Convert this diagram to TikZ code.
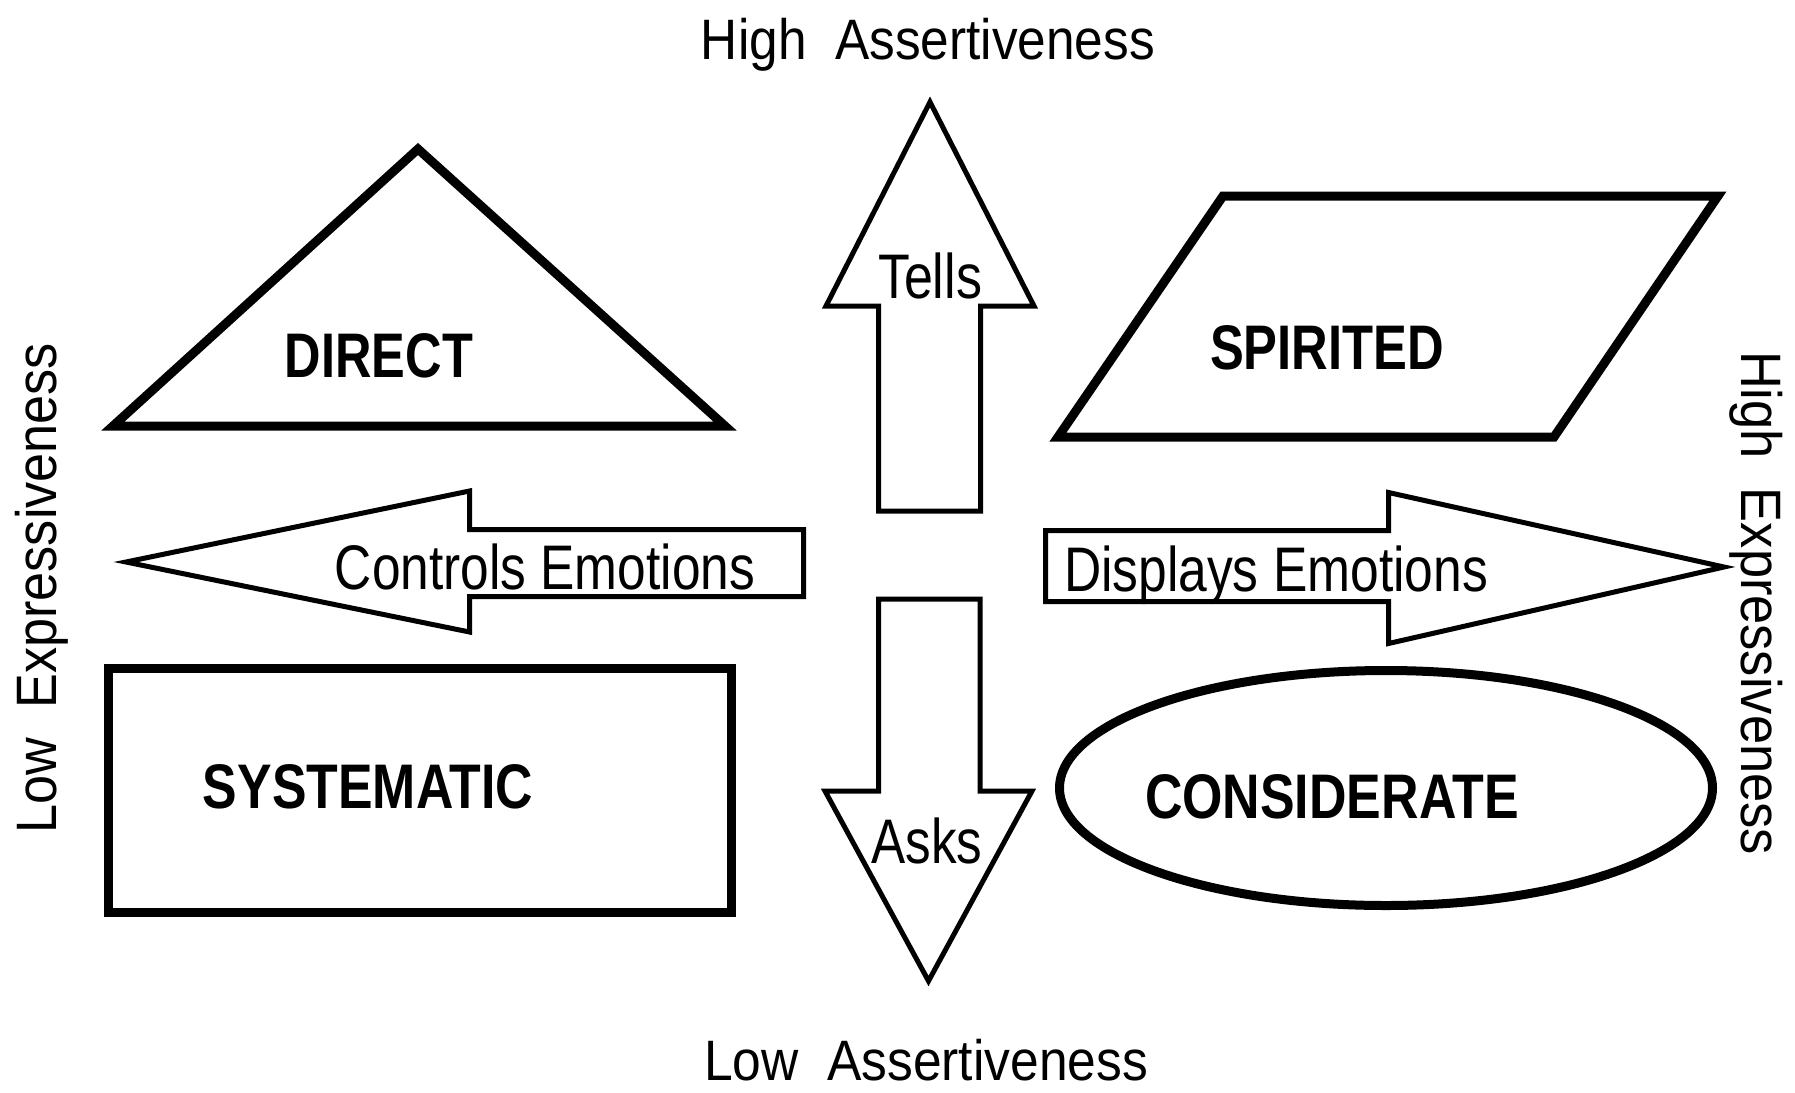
\documentclass[tikz,border=0pt]{standalone}
\usepackage{fontspec}
\setmainfont{Liberation Sans}
\usepackage{graphicx}
\newcommand{\fitw}[2]{\resizebox{#1}{\height}{#2}}
\begin{document}
\begin{tikzpicture}[x=0.5pt,y=-0.5pt,
  shapeline/.style={draw=black,line width=4.5pt,line join=miter,miter limit=12},
  arrline/.style={draw=black,line width=2.5pt,line join=miter,miter limit=12},
  typelab/.style={inner sep=0pt,anchor=base,font=\fontsize{31.5}{36}\selectfont\bfseries},
  arrlab/.style={inner sep=0pt,anchor=base,font=\fontsize{31.5}{36}\selectfont},
  axislab/.style={inner sep=0pt,anchor=base,font=\fontsize{28.5}{33}\selectfont}]
\useasboundingbox (0,0) rectangle (1795,1093);
% quadrant shapes
\draw[shapeline] (113,426) -- (418,149) -- (725,426) -- cycle;
\draw[shapeline] (1223,196) -- (1718,196) -- (1554,437) -- (1058,437) -- cycle;
\draw[shapeline] (108,668) rectangle (731,912);
\draw[line width=4.5pt] (1386,788) ellipse [x radius=326.5, y radius=117.5];
% block arrows
\draw[arrline] (878.5,511) -- (878.5,306) -- (826,306) -- (930,102) -- (1034,306) -- (980.5,306) -- (980.5,511) -- cycle;
\draw[arrline] (878.5,599) -- (878.5,791) -- (825,791) -- (928.5,981) -- (1032,791) -- (980,791) -- (980,599) -- cycle;
\draw[arrline] (803.5,529.5) -- (469.5,529.5) -- (469.5,491) -- (126,562) -- (469.5,632) -- (469.5,596.5) -- (803.5,596.5) -- cycle;
\draw[arrline] (1045.5,530.5) -- (1388.5,530.5) -- (1388.5,492.5) -- (1724,567) -- (1388.5,643.5) -- (1388.5,601.5) -- (1045.5,601.5) -- cycle;
% labels
\node[typelab] (direct) at (379,377) {\fitw{94pt}{DIRECT}};
\node[typelab] (spirited) at (1327,369) {\fitw{117pt}{SPIRITED}};
\node[typelab] (systematic) at (368,808) {\fitw{165pt}{SYSTEMATIC}};
\node[typelab] (considerate) at (1332,818) {\fitw{187pt}{CONSIDERATE}};
\node[arrlab] (tells) at (930,298) {\fitw{52pt}{Tells}};
\node[arrlab] (asks) at (927,863) {\fitw{55.5pt}{Asks}};
\node[arrlab] (controls) at (545,589) {\fitw{210pt}{Controls Emotions}};
\node[arrlab] (displays) at (1276,591) {\fitw{212pt}{Displays Emotions}};
\node[axislab] (highA) at (928,59) {\fitw{227pt}{High~~Assertiveness}};
\node[axislab] (lowA) at (926,1080) {\fitw{222pt}{Low~~Assertiveness}};
\node[axislab,rotate=90] (lowE) at (56,588) {\fitw{245pt}{Low~~Expressiveness}};
\node[axislab,rotate=-90] (highE) at (1741,603) {\fitw{252pt}{High~~Expressiveness}};
\end{tikzpicture}
\end{document}
